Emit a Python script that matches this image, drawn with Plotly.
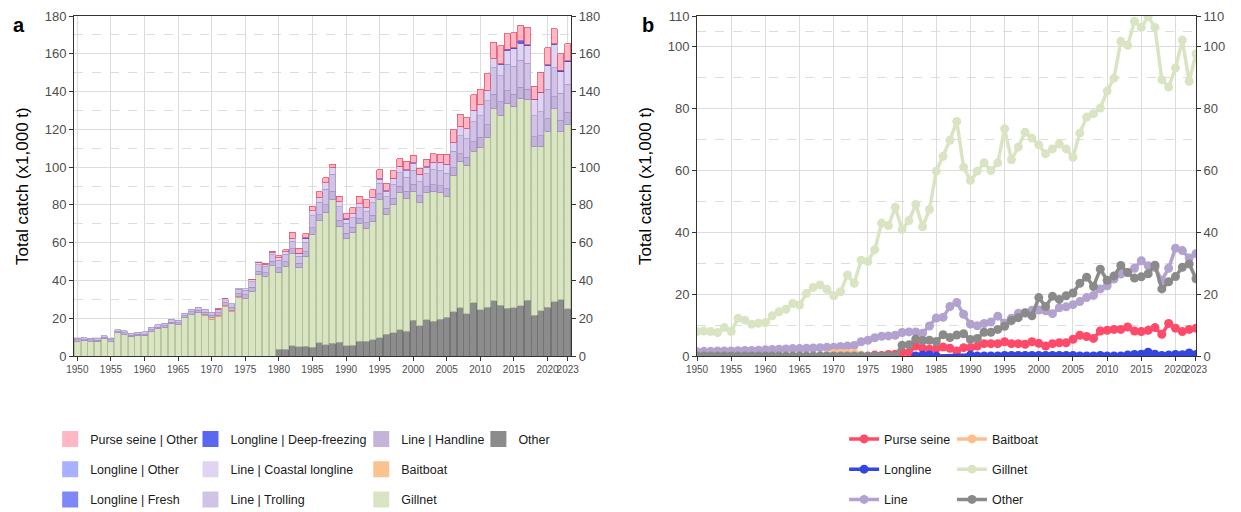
import plotly.graph_objects as go

years = list(range(1950, 2024))

# ---- data (x1,000 t) ----
gillnet = [7.9, 8.1, 7.9, 7.6, 9.2, 7.9, 12.2, 11.6, 10.3, 10.6,
           10.8, 13.0, 14.3, 15.1, 17.0, 16.5, 20.2, 22.2, 23.0, 21.6,
           19.5, 20.8, 26.2, 23.5, 31.0, 30.6, 34.4, 43.0, 42.2, 48.1,
           40.9, 43.8, 49.0, 41.8, 47.4, 59.8, 64.6, 69.8, 75.9, 61.1,
           56.8, 59.8, 62.5, 60.0, 62.5, 73.5, 63.5, 67.6, 72.4, 70.5,
           68.3, 65.4, 67.0, 68.6, 67.0, 64.3, 72.1, 77.3, 78.4, 80.2,
           85.7, 89.9, 101.8, 100.5, 108.3, 106.3, 109.8, 106.3, 89.4, 87.0,
           93.2, 102.2, 88.9, 97.8]

other = [0, 0, 0, 0, 0, 0, 0, 0, 0, 0,
         0, 0, 0, 0, 0, 0, 0, 0, 0, 0,
         0, 0, 0, 0, 0, 0, 0, 0, 0, 0,
         3.5, 3.6, 5.5, 5.0, 5.1, 4.7, 6.9, 6.0, 6.8, 7.2,
         5.3, 5.7, 7.7, 7.7, 8.6, 9.6, 11.5, 12.4, 14.0, 13.0,
         18.9, 16.0, 19.3, 18.3, 19.5, 20.4, 23.5, 25.5, 22.5, 28.1,
         24.5, 25.9, 29.3, 27.0, 25.2, 25.6, 26.6, 29.4, 21.7, 24.0,
         25.7, 28.7, 29.8, 25.0]

line_handline = [0.6, 0.6, 0.6, 0.7, 0.7, 0.7, 0.7, 0.8, 0.8, 0.8,
                 0.8, 0.9, 0.9, 1.0, 1.0, 1.0, 1.0, 1.1, 1.1, 1.2,
                 1.2, 1.3, 1.3, 1.4, 1.6, 1.7, 1.9, 2.0, 2.0, 2.1,
                 2.3, 2.4, 2.3, 2.2, 2.8, 3.4, 3.4, 4.2, 4.5, 3.6,
                 2.8, 2.7, 2.8, 2.9, 3.3, 2.8, 3.1, 3.4, 3.4, 3.6,
                 3.6, 3.5, 3.3, 3.7, 3.7, 3.8, 4.0, 4.3, 4.4, 5.0,
                 5.6, 6.6, 7.6, 7.0, 6.8, 6.6, 6.0, 5.6, 5.0, 5.6,
                 6.6, 6.4, 6.0, 6.2]

line_trolling = [0.8, 0.9, 0.9, 0.9, 0.9, 0.9, 1.0, 1.0, 1.0, 1.1,
                 1.2, 1.2, 1.3, 1.3, 1.4, 1.4, 1.5, 1.5, 1.6, 1.6,
                 1.6, 1.8, 1.9, 2.0, 2.4, 2.6, 3.0, 3.3, 3.4, 3.5,
                 3.9, 4.0, 4.0, 3.8, 5.0, 6.4, 6.5, 8.4, 9.1, 7.0,
                 5.3, 5.0, 5.4, 5.7, 6.7, 5.5, 6.3, 7.2, 7.2, 7.6,
                 7.6, 7.4, 7.0, 7.9, 8.0, 8.3, 8.8, 9.4, 9.7, 10.7,
                 11.3, 12.8, 14.0, 14.0, 14.2, 15.0, 14.2, 13.6, 11.2, 12.8,
                 15.6, 15.4, 14.4, 15.0]

line_coastal = [0, 0, 0, 0, 0, 0, 0, 0, 0, 0,
                0, 0, 0, 0, 0, 0, 0, 0, 0, 0,
                0, 0, 0, 0, 0.6, 0.8, 1.0, 1.1, 1.1, 1.1,
                1.4, 1.4, 1.5, 1.4, 1.9, 2.5, 2.6, 3.4, 3.7, 2.9,
                2.2, 2.1, 2.3, 2.4, 2.9, 2.3, 2.8, 3.2, 3.3, 3.6,
                3.7, 3.7, 3.4, 4.0, 4.2, 4.5, 4.8, 5.2, 5.5, 6.0,
                5.8, 5.5, 4.9, 6.0, 7.4, 9.2, 9.0, 9.4, 8.3, 10.0,
                12.7, 12.3, 11.3, 11.9]

purse_seine_by_year = {
    1971: 0.4, 1972: 0.2, 1976: 0.3, 1977: 0.2, 1978: 0.5, 1979: 0.6,
    1980: 1.2, 1981: 1.1, 1982: 3.2, 1983: 2.5, 1984: 2.2, 1985: 2.4,
    1986: 2.9, 1987: 2.5, 1988: 1.6, 1989: 2.7, 1990: 2.7, 1991: 3.2,
    1992: 4.0, 1993: 4.0, 1994: 4.0, 1995: 4.6, 1996: 4.0, 1997: 4.0,
    1998: 3.8, 1999: 4.6, 2000: 4.1, 2001: 3.2, 2002: 4.0, 2003: 4.3,
    2004: 4.3, 2005: 5.4, 2006: 6.7, 2007: 6.3, 2008: 5.7, 2009: 8.1,
    2010: 8.3, 2011: 8.6, 2012: 8.6, 2013: 9.4, 2014: 8.1, 2015: 7.9,
    2016: 8.3, 2017: 9.2, 2018: 7.0, 2019: 10.5, 2020: 9.0, 2021: 7.9,
    2022: 8.6, 2023: 9.0}

baitboat_by_year = {1969: 0.3, 1970: 0.8, 1971: 0.9, 1972: 0.8, 1973: 0.8, 1974: 0.3}

ll_deep_by_year = {2013: 0.3, 2014: 0.5, 2015: 0.6, 2016: 1.2, 2017: 0.6, 2018: 0.2,
                   2019: 0.3, 2020: 0.5, 2021: 0.4, 2022: 1.0, 2023: 0.5}
ll_fresh_by_year = {1983: 0.3, 1984: 0.3, 1990: 0.3}
ll_other_by_year = {1995: 0.2, 1996: 0.2, 1997: 0.2, 1998: 0.2, 1999: 0.2, 2000: 0.2,
                    2001: 0.2, 2002: 0.2, 2003: 0.2, 2004: 0.2, 2005: 0.2, 2009: 0.2}
# years in which a longline catch is reported (panel b line)
longline_years = [1982, 1983, 1984, 1985] + list(range(1990, 2024))

purse_seine = [purse_seine_by_year.get(y, 0) for y in years]
baitboat = [baitboat_by_year.get(y, 0) for y in years]
ll_deep = [ll_deep_by_year.get(y, 0) for y in years]
ll_fresh = [ll_fresh_by_year.get(y, 0) for y in years]
ll_other = [ll_other_by_year.get(y, 0) for y in years]

line_total = [round(a + b + c, 2) for a, b, c in zip(line_handline, line_trolling, line_coastal)]
longline_total = [round(ll_deep_by_year.get(y, 0) + ll_fresh_by_year.get(y, 0)
                        + ll_other_by_year.get(y, 0), 2) if y in longline_years else None
                  for y in years]
purse_seine_b = [purse_seine_by_year.get(y) for y in years]
baitboat_b = [baitboat_by_year.get(y) for y in years]

x_tickvals = [1950, 1955, 1960, 1965, 1970, 1975, 1980, 1985, 1990, 1995,
              2000, 2005, 2010, 2015, 2020, 2023]

FONT = "Liberation Sans, Arial, sans-serif"
TICK = "#4D4D4D"
AX = "#333333"
GRID = "#DCDCDC"
Y_TITLE = "Total catch (x1,000 t)"

fig = go.Figure()

# ---- panel a : stacked bars (bottom to top) ----
bar_specs = [
    ("Other", other, "#8C8C8C", "#6E6E6E"),
    ("Gillnet", gillnet, "#D9E4C3", "#AEBC95"),
    ("Baitboat", baitboat, "#F9C290", "#E49A62"),
    ("Line | Handline", line_handline, "#C4B4DA", "#9D8BC0"),
    ("Line | Trolling", line_trolling, "#D1C3E6", "#A896C8"),
    ("Line | Coastal longline", line_coastal, "#E1D4F3", "#AE9DCC"),
    ("Longline | Deep-freezing", ll_deep, "#5B67F0", "#3F4AD0"),
    ("Longline | Fresh", ll_fresh, "#7F88FA", "#4F59DA"),
    ("Longline | Other", ll_other, "#A9B0FF", "#6E78E8"),
    ("Purse seine | Other", purse_seine, "#FFB7C5", "#E34F6C"),
]
for name, vals, fill, edge in bar_specs:
    fig.add_trace(go.Bar(
        x=years, y=[v if v else None for v in vals], name=name,
        marker=dict(color=fill, line=dict(color=edge, width=0.8)),
        showlegend=False, xaxis="x", yaxis="y", hoverinfo="skip"))

# legend keys for panel a (column layout as in reference)
legend_a_order = [
    ("Purse seine | Other", "legend"), ("Longline | Other", "legend"), ("Longline | Fresh", "legend"),
    ("Longline | Deep-freezing", "legend2"), ("Line | Coastal longline", "legend2"), ("Line | Trolling", "legend2"),
    ("Line | Handline", "legend3"), ("Baitboat", "legend3"), ("Gillnet", "legend3"),
    ("Other", "legend4"),
]
fill_of = {n: f for n, _, f, _ in bar_specs}
for name, lg in legend_a_order:
    fig.add_trace(go.Scatter(
        x=[None], y=[None], mode="markers", name=name, legend=lg, legendgroup=name,
        marker=dict(symbol="square", size=18, color=fill_of[name], line=dict(width=0)),
        xaxis="x", yaxis="y", hoverinfo="skip"))

# ---- panel b : lines ----
line_specs = [
    ("Purse seine", purse_seine_b, "#FF4A6A", "legend5"),
    ("Longline", longline_total, "#3346E0", "legend5"),
    ("Line", line_total, "#B3A2D0", "legend5"),
    ("Baitboat", baitboat_b, "#FDBE8C", "legend6"),
    ("Gillnet", gillnet, "#D9E4C3", "legend6"),
    ("Other", other, "#8A8A8A", "legend6"),
]
for name, vals, col, lg in line_specs:
    fig.add_trace(go.Scatter(
        x=years, y=vals, name=name, mode="lines+markers", connectgaps=True,
        line=dict(color=col, width=3.5), marker=dict(color=col, size=9),
        legend=lg, legendgroup="b_" + name,
        xaxis="x2", yaxis="y2", hoverinfo="skip"))

# invisible carriers so the secondary (right-hand) axes are drawn
fig.add_trace(go.Scatter(x=years, y=gillnet, mode="lines", line=dict(width=0), opacity=0,
                         showlegend=False, hoverinfo="skip", xaxis="x", yaxis="y3"))
fig.add_trace(go.Scatter(x=years, y=gillnet, mode="lines", line=dict(width=0), opacity=0,
                         showlegend=False, hoverinfo="skip", xaxis="x2", yaxis="y4"))

common_x = dict(
    tickmode="array", tickvals=x_tickvals, ticktext=[str(v) for v in x_tickvals],
    showgrid=True, gridcolor=GRID, gridwidth=1, zeroline=False,
    showline=True, linecolor=AX, linewidth=1, mirror=True,
    ticks="outside", ticklen=4, tickcolor=AX, tickwidth=1, tickangle=0,
    tickfont=dict(family=FONT, size=10, color=TICK))

def y_common(vals, minor_vals, rng):
    return dict(
        range=rng, tickmode="array", tickvals=vals, ticktext=[str(v) for v in vals],
        showgrid=True, gridcolor=GRID, gridwidth=1, zeroline=False,
        showline=True, linecolor=AX, linewidth=1, side="left",
        ticks="outside", ticklen=4, tickcolor=AX, tickwidth=1,
        tickfont=dict(family=FONT, size=13, color=TICK),
        minor=dict(tickmode="array", tickvals=minor_vals, showgrid=True,
                   gridcolor=GRID, griddash="dash", gridwidth=1, ticks=""))

ya_vals = list(range(0, 181, 20))
ya_minor = list(range(10, 180, 20))
yb_vals = [0, 20, 40, 60, 80, 100, 110]
yb_minor = [10, 30, 50, 70, 90, 105]

ya = y_common(ya_vals, ya_minor, [0, 180]); ya.update(anchor="x")
yb = y_common(yb_vals, yb_minor, [0, 110]); yb.update(anchor="x2")

def y_right(over, anchor, vals, rng):
    return dict(overlaying=over, side="right", anchor=anchor, range=rng, tickmode="array",
                tickvals=vals, ticktext=[str(v) for v in vals], showgrid=False, zeroline=False,
                showline=True, linecolor=AX, linewidth=1, ticks="outside", ticklen=4,
                tickcolor=AX, tickwidth=1, tickfont=dict(family=FONT, size=13, color=TICK))

ya_r = y_right("y", "x", ya_vals, [0, 180])
yb_r = y_right("y2", "x2", yb_vals, [0, 110])

xa = dict(common_x); xa.update(domain=[0, 0.443], range=[1949.5, 2023.5], anchor="y")
xb = dict(common_x); xb.update(domain=[0.5553, 1.0], range=[1950, 2023], anchor="y2")

leg_font = dict(family=FONT, size=12.5, color="#1A1A1A")
def leg(x):
    return dict(x=x, y=0.174, xref="container", yref="container", xanchor="left", yanchor="top",
                orientation="v", font=leg_font, tracegroupgap=11, bgcolor="rgba(0,0,0,0)",
                itemclick=False, itemdoubleclick=False)

title_font = dict(family=FONT, size=17, color="black")

# the page body adds an 8 px margin, so the figure is 8 px smaller than the window
fig.update_layout(
    width=1233, height=504,
    margin=dict(l=66, r=45, t=8, b=156, autoexpand=False),
    paper_bgcolor="white", plot_bgcolor="white",
    barmode="stack", bargap=0.1,
    font=dict(family=FONT),
    xaxis=xa, yaxis=ya, yaxis3=ya_r,
    xaxis2=xb, yaxis2=yb, yaxis4=yb_r,
    legend=leg(0.0342), legend2=leg(0.148), legend3=leg(0.2865), legend4=leg(0.3815),
    legend5=leg(0.6781), legend6=leg(0.7656),
    annotations=[
        dict(text="<b>a</b>", x=-0.056, y=0.9735, xref="paper", yref="paper",
             showarrow=False, xanchor="left", yanchor="middle",
             font=dict(family=FONT, size=20, color="black")),
        dict(text="<b>b</b>", x=0.5045, y=0.9735, xref="paper", yref="paper",
             showarrow=False, xanchor="left", yanchor="middle",
             font=dict(family=FONT, size=20, color="black")),
        dict(text=Y_TITLE, x=-0.0463, y=0.5, xref="paper", yref="paper", textangle=-90,
             showarrow=False, xanchor="center", yanchor="middle", font=title_font),
        dict(text=Y_TITLE, x=0.5089, y=0.5, xref="paper", yref="paper", textangle=-90,
             showarrow=False, xanchor="center", yanchor="middle", font=title_font),
    ],
)

fig.write_html("out.html")
